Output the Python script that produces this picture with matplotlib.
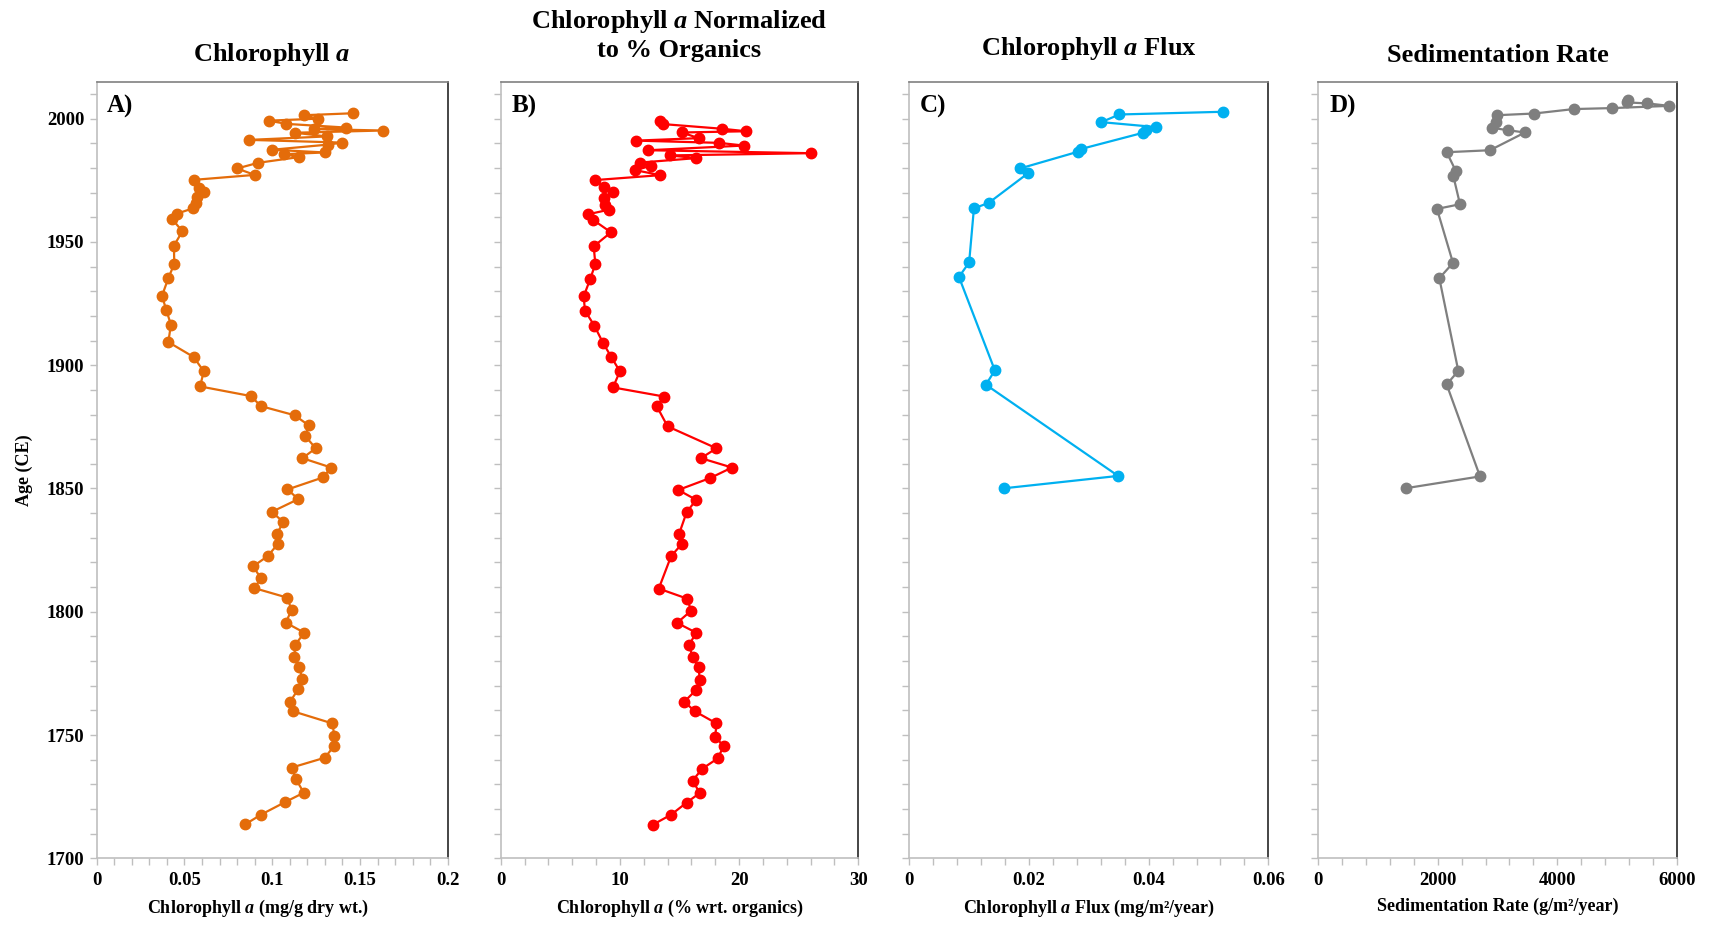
import matplotlib
matplotlib.use("Agg")
import matplotlib.pyplot as plt
from matplotlib.ticker import MultipleLocator, FuncFormatter

# ── Data ─────────────────────────────────────────────────────
years_a = [2002.2, 2001.4, 2000.0, 1999.2, 1997.9, 1996.4, 1995.8, 1995.2, 1994.3, 1992.8,
           1991.4, 1990.3, 1989.5, 1987.4, 1986.3, 1985.6, 1984.4, 1982.1, 1979.8, 1977.2,
           1975.2, 1972.0, 1970.4, 1968.2, 1965.6, 1963.6, 1961.5, 1959.4, 1954.3, 1948.5,
           1941.1, 1935.3, 1928.1, 1922.3, 1916.4, 1909.4, 1903.3,
           1897.5, 1891.4, 1887.5, 1883.4, 1879.7, 1875.6, 1871.2, 1866.3, 1862.3, 1858.5,
           1854.5, 1849.6, 1845.7, 1840.5, 1836.4, 1831.5, 1827.5, 1822.6, 1818.4, 1813.6,
           1809.6, 1805.7, 1800.6, 1795.6, 1791.5, 1786.7, 1781.8,
           1777.7, 1772.7, 1768.7, 1763.5, 1759.6, 1754.7, 1749.7, 1745.7, 1740.8, 1736.8,
           1732.0, 1726.6, 1722.7, 1717.7, 1713.8]
chl_a = [0.146, 0.118, 0.126, 0.098, 0.108, 0.142, 0.124, 0.163, 0.113, 0.131,
         0.087, 0.140, 0.132, 0.100, 0.130, 0.107, 0.115, 0.092, 0.080, 0.090,
         0.0556, 0.0583, 0.061, 0.0574, 0.0564, 0.0547, 0.0458, 0.0429, 0.0488, 0.044,
         0.0442, 0.0408, 0.0372, 0.0397, 0.0423, 0.0408, 0.0553,
         0.061, 0.0589, 0.0878, 0.0936, 0.1128, 0.1208, 0.1189, 0.1248, 0.1172, 0.1336,
         0.129, 0.1087, 0.1149, 0.0997, 0.1064, 0.1026, 0.1032, 0.0975, 0.0891, 0.0936,
         0.0898, 0.1087, 0.111, 0.1077, 0.1183, 0.1132, 0.1126,
         0.1153, 0.1172, 0.1149, 0.1102, 0.112, 0.1343, 0.1354, 0.1354, 0.13, 0.1111,
         0.1136, 0.118, 0.1071, 0.0936, 0.0847]

years_b = [1999.1, 1997.8, 1995.9, 1994.9, 1994.4, 1992.1, 1991.1, 1990.2, 1989.1, 1987.2,
           1986.0, 1985.1, 1984.0, 1982.2, 1980.9, 1979.1, 1977.1,
           1975.1, 1972.1, 1970.4, 1967.9, 1965.0, 1963.1, 1961.2, 1959.0, 1953.9, 1948.2,
           1941.1, 1935.1, 1927.9, 1922.1, 1916.1, 1909.1, 1903.3, 1897.5,
           1891.0, 1887.3, 1883.3, 1875.2, 1866.3, 1862.3, 1858.5, 1854.3, 1849.4, 1845.4,
           1840.4, 1831.5, 1827.5, 1822.6, 1809.4, 1805.3, 1800.4, 1795.5, 1791.5, 1786.5,
           1781.5,
           1777.4, 1772.4, 1768.3, 1763.5, 1759.6, 1754.7, 1749.4, 1745.4, 1740.5, 1736.3,
           1731.5, 1726.5, 1722.6, 1717.7, 1713.6]
chl_org = [13.36, 13.64, 18.6, 20.6, 15.2, 16.6, 11.35, 18.3, 20.4, 12.38,
           26.0, 14.2, 16.4, 11.7, 12.6, 11.3, 13.4,
           7.94, 8.69, 9.42, 8.69, 8.75, 9.09, 7.32, 7.74, 9.25, 7.8,
           7.94, 7.52, 6.96, 7.07, 7.85, 8.58, 9.28, 10.0,
           9.42, 13.7, 13.1, 14.0, 18.1, 16.8, 19.4, 17.6, 14.9, 16.4,
           15.6, 14.96, 15.2, 14.3, 13.26, 15.65, 15.97, 14.8, 16.4, 15.8,
           16.1,
           16.6, 16.7, 16.4, 15.4, 16.3, 18.1, 18.0, 18.7, 18.2, 16.9,
           16.1, 16.7, 15.6, 14.3, 12.75]

years_c = [2002.8, 2001.7, 1998.6, 1996.6, 1995.3, 1994.3, 1987.7, 1986.6, 1979.8, 1977.8,
           1965.9, 1963.6, 1941.7, 1935.8, 1897.9, 1892.1, 1855.1, 1850.1]
chl_flux = [0.0524, 0.0351, 0.0321, 0.0412, 0.0395, 0.0391, 0.0287, 0.0282, 0.0185, 0.0198,
            0.0133, 0.0108, 0.0100, 0.0083, 0.0143, 0.0128, 0.0349, 0.0159]

years_d = [2007.5, 2006.6, 2006.2, 2005.2, 2004.3, 2003.9, 2002.1, 2001.4, 1998.7, 1996.3,
           1995.3, 1994.4, 1987.2, 1986.4, 1978.9, 1976.8, 1965.3, 1963.4, 1941.5, 1935.3,
           1897.7, 1892.2, 1854.9, 1850.1]
sed_rate = [5190, 5163, 5508, 5876, 4922, 4275, 3616, 2986, 2975, 2908,
            3181, 3460, 2874, 2149, 2300, 2260, 2372, 1987, 2255, 2026,
            2344, 2149, 2707, 1463]

# ── Fonts (Times-like, bold) ─────────────────────────────────
plt.rcParams["font.family"] = "Liberation Serif"
plt.rcParams["font.weight"] = "bold"
plt.rcParams["mathtext.fontset"] = "custom"
plt.rcParams["mathtext.rm"] = "Liberation Serif:bold"
plt.rcParams["mathtext.it"] = "Liberation Serif:italic:bold"
plt.rcParams["mathtext.bf"] = "Liberation Serif:bold"

W, H = 1711, 930
fig = plt.figure(figsize=(W / 100, H / 100), dpi=100)

# axes boxes in pixels: left, right, top, bottom
boxes = [(96.7, 447.7, 81.7, 858.3),
         (500.7, 858.3, 81.7, 858.3),
         (909.3, 1268.3, 81.7, 858.3),
         (1318.3, 1676.7, 81.7, 858.3)]


def fmt(v, pos):
    return "%g" % round(v, 6)


def panel(box, x, y, color, xmax, major, minor, letter, xlabel, title, title_y,
          ylabels=False, xlab_pos=0.5):
    l, r, t, b = box
    ax = fig.add_axes([l / W, 1 - b / H, (r - l) / W, (b - t) / H])
    ax.plot(x, y, color=color, lw=1.6, marker="o", ms=7.5, zorder=3)

    ax.set_xlim(0, xmax)
    ax.set_ylim(1700, 2015)
    ax.xaxis.set_major_locator(MultipleLocator(major))
    ax.xaxis.set_minor_locator(MultipleLocator(minor))
    ax.xaxis.set_major_formatter(FuncFormatter(fmt))
    ax.yaxis.set_major_locator(MultipleLocator(50))
    ax.yaxis.set_minor_locator(MultipleLocator(10))

    ax.tick_params(which="both", direction="out", color="#BFBFBF", length=5, width=1)
    ax.tick_params(axis="x", labelsize=13.5, pad=5)
    ax.tick_params(axis="y", labelsize=13.5, pad=4, labelleft=ylabels)
    for lab in ax.get_xticklabels() + ax.get_yticklabels():
        lab.set_fontweight("bold")

    ax.spines["left"].set_color("#BFBFBF")
    ax.spines["bottom"].set_color("#BFBFBF")
    ax.spines["top"].set_color("#808080")
    ax.spines["right"].set_color("#262626")
    for s in ax.spines.values():
        s.set_linewidth(1.2)

    ax.set_xlabel(xlabel, fontsize=13, fontweight="bold", labelpad=6)
    ax.xaxis.label.set_x(xlab_pos)
    ax.text(0.03, 0.968, letter, transform=ax.transAxes, fontsize=18,
            fontweight="bold", va="center", ha="left")
    fig.text((l + r) / 2 / W, 1 - title_y / H, title, fontsize=19,
             fontweight="bold", ha="center", va="center", linespacing=1.25)
    return ax


panel(boxes[0], chl_a, years_a, "#E46C0A", 0.2, 0.05, 0.01, "A)",
      r"Chlorophyll $\mathit{a}$ (mg/g dry wt.)", r"Chlorophyll $\mathit{a}$", 54,
      ylabels=True, xlab_pos=0.46)
panel(boxes[1], chl_org, years_b, "#FF0000", 30, 10, 2, "B)",
      r"Chlorophyll $\mathit{a}$ (% wrt. organics)",
      "Chlorophyll $\\mathit{a}$ Normalized\nto % Organics", 35)
panel(boxes[2], chl_flux, years_c, "#00B0F0", 0.06, 0.02, 0.004, "C)",
      "Chlorophyll $\\mathit{a}$ Flux (mg/m\u00b2/year)", r"Chlorophyll $\mathit{a}$ Flux", 48)
panel(boxes[3], sed_rate, years_d, "#7F7F7F", 6000, 2000, 400, "D)",
      "Sedimentation Rate (g/m\u00b2/year)", "Sedimentation Rate", 56)

fig.text(24 / W, 1 - 470 / H, "Age (CE)", rotation=90, fontsize=13,
         fontweight="bold", ha="center", va="center")

fig.savefig("out.png", dpi=100, facecolor="white")
